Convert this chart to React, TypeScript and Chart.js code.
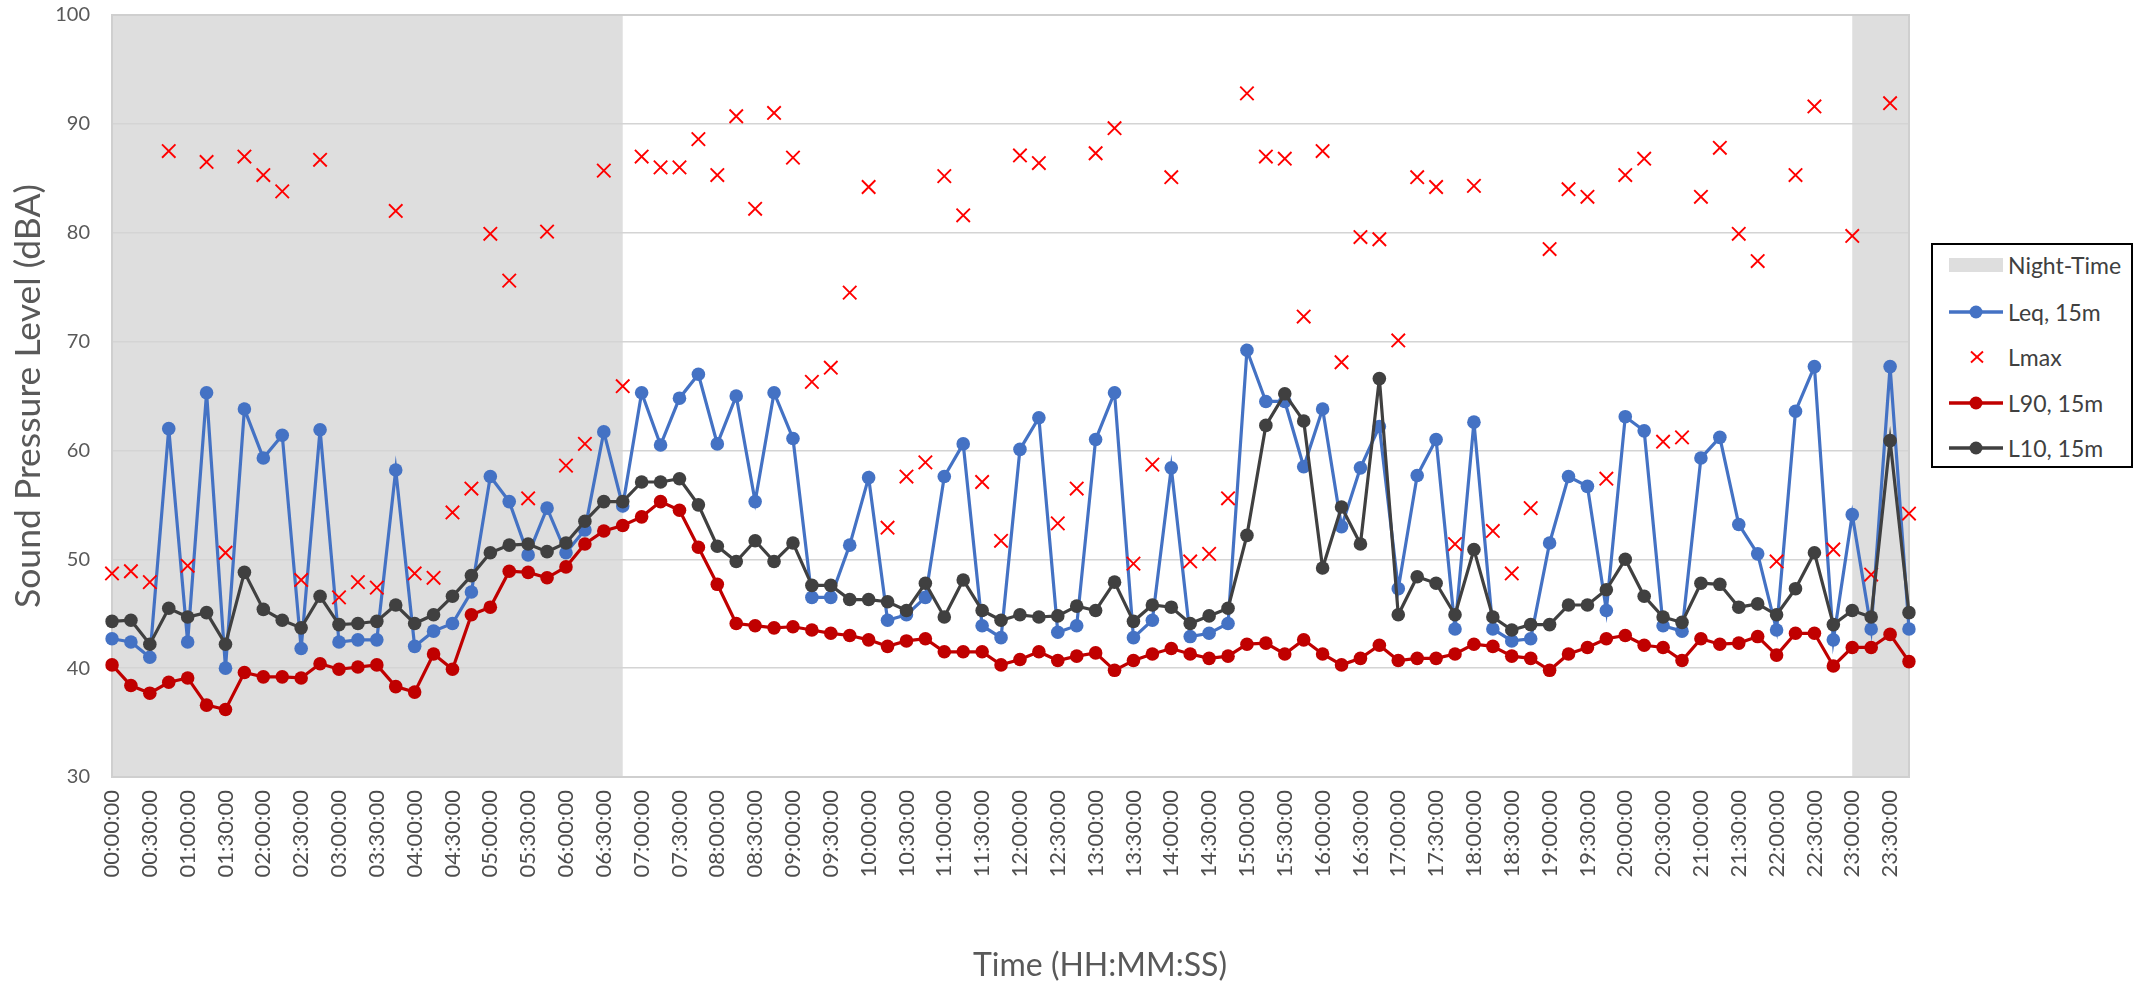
import React, { useEffect, useRef } from "react";
import { Chart, registerables } from "chart.js";

Chart.register(...registerables);

const timeLabels = [
  "00:00:00", "00:15:00", "00:30:00", "00:45:00", "01:00:00", "01:15:00", "01:30:00", "01:45:00",
  "02:00:00", "02:15:00", "02:30:00", "02:45:00", "03:00:00", "03:15:00", "03:30:00", "03:45:00",
  "04:00:00", "04:15:00", "04:30:00", "04:45:00", "05:00:00", "05:15:00", "05:30:00", "05:45:00",
  "06:00:00", "06:15:00", "06:30:00", "06:45:00", "07:00:00", "07:15:00", "07:30:00", "07:45:00",
  "08:00:00", "08:15:00", "08:30:00", "08:45:00", "09:00:00", "09:15:00", "09:30:00", "09:45:00",
  "10:00:00", "10:15:00", "10:30:00", "10:45:00", "11:00:00", "11:15:00", "11:30:00", "11:45:00",
  "12:00:00", "12:15:00", "12:30:00", "12:45:00", "13:00:00", "13:15:00", "13:30:00", "13:45:00",
  "14:00:00", "14:15:00", "14:30:00", "14:45:00", "15:00:00", "15:15:00", "15:30:00", "15:45:00",
  "16:00:00", "16:15:00", "16:30:00", "16:45:00", "17:00:00", "17:15:00", "17:30:00", "17:45:00",
  "18:00:00", "18:15:00", "18:30:00", "18:45:00", "19:00:00", "19:15:00", "19:30:00", "19:45:00",
  "20:00:00", "20:15:00", "20:30:00", "20:45:00", "21:00:00", "21:15:00", "21:30:00", "21:45:00",
  "22:00:00", "22:15:00", "22:30:00", "22:45:00", "23:00:00", "23:15:00", "23:30:00", "23:45:00",
];

const leq15m = [
  42.7, 42.4, 41.0, 62.0, 42.4, 65.3, 40.0, 63.8, 59.3, 61.4, 41.8, 61.9, 42.4, 42.6, 42.6, 58.2,
  42.0, 43.4, 44.1, 47.0, 57.6, 55.3, 50.4, 54.7, 50.6, 52.7, 61.7, 54.9, 65.3, 60.5, 64.8, 67.0,
  60.6, 65.0, 55.3, 65.3, 61.1, 46.5, 46.5, 51.3, 57.5, 44.4, 44.9, 46.5, 57.6, 60.6, 43.9, 42.8,
  60.1, 63.0, 43.3, 43.9, 61.0, 65.3, 42.8, 44.4, 58.4, 42.9, 43.2, 44.1, 69.2, 64.5, 64.5, 58.5,
  63.8, 53.0, 58.4, 62.2, 47.3, 57.7, 61.0, 43.6, 62.6, 43.6, 42.5, 42.7, 51.5, 57.6, 56.7, 45.3,
  63.1, 61.8, 43.9, 43.4, 59.3, 61.2, 53.2, 50.5, 43.5, 63.6, 67.7, 42.6, 54.1, 43.6, 67.7, 43.6,
];

const lmax = [
  48.7, 48.9, 47.9, 87.5, 49.4, 86.5, 50.6, 87.0, 85.3, 83.8, 48.1, 86.7, 46.5, 47.9, 47.4, 82.0,
  48.7, 48.3, 54.3, 56.5, 79.9, 75.6, 55.6, 80.1, 58.6, 60.6, 85.7, 65.9, 87.0, 86.0, 86.0, 88.6,
  85.3, 90.7, 82.2, 91.0, 86.9, 66.3, 67.6, 74.5, 84.2, 52.9, 57.6, 58.9, 85.2, 81.6, 57.1, 51.7,
  87.1, 86.4, 53.3, 56.5, 87.3, 89.6, 49.6, 58.7, 85.1, 49.8, 50.5, 55.6, 92.8, 87.0, 86.8, 72.3,
  87.5, 68.1, 79.6, 79.4, 70.1, 85.1, 84.2, 51.4, 84.3, 52.6, 48.7, 54.7, 78.5, 84.0, 83.3, 57.4,
  85.3, 86.8, 60.8, 61.2, 83.3, 87.8, 79.9, 77.4, 49.8, 85.3, 91.6, 50.9, 79.7, 48.6, 91.9, 54.2,
];

const l90_15m = [
  40.3, 38.4, 37.7, 38.7, 39.1, 36.6, 36.2, 39.6, 39.2, 39.2, 39.1, 40.4, 39.9, 40.1, 40.3, 38.3,
  37.8, 41.3, 39.9, 44.9, 45.6, 48.9, 48.8, 48.3, 49.3, 51.4, 52.6, 53.1, 53.9, 55.3, 54.5, 51.1,
  47.7, 44.1, 43.9, 43.7, 43.8, 43.5, 43.2, 43.0, 42.6, 42.0, 42.5, 42.7, 41.5, 41.5, 41.5, 40.3,
  40.8, 41.5, 40.7, 41.1, 41.4, 39.8, 40.7, 41.3, 41.8, 41.3, 40.9, 41.1, 42.2, 42.3, 41.3, 42.6,
  41.3, 40.3, 40.9, 42.1, 40.7, 40.9, 40.9, 41.3, 42.2, 42.0, 41.1, 40.9, 39.8, 41.3, 41.9, 42.7,
  43.0, 42.1, 41.9, 40.7, 42.7, 42.2, 42.3, 42.9, 41.2, 43.2, 43.2, 40.2, 41.9, 41.9, 43.1, 40.6,
];

const l10_15m = [
  44.3, 44.4, 42.2, 45.5, 44.7, 45.1, 42.2, 48.8, 45.4, 44.4, 43.7, 46.6, 44.0, 44.1, 44.3, 45.8,
  44.1, 44.9, 46.6, 48.5, 50.6, 51.3, 51.4, 50.7, 51.5, 53.5, 55.3, 55.3, 57.1, 57.1, 57.4, 55.0,
  51.2, 49.8, 51.7, 49.8, 51.5, 47.6, 47.6, 46.3, 46.3, 46.1, 45.3, 47.8, 44.7, 48.1, 45.3, 44.4,
  44.9, 44.7, 44.8, 45.7, 45.3, 47.9, 44.3, 45.8, 45.6, 44.1, 44.8, 45.5, 52.2, 62.3, 65.2, 62.7,
  49.2, 54.8, 51.4, 66.6, 44.9, 48.4, 47.8, 44.9, 50.9, 44.7, 43.5, 44.0, 44.0, 45.8, 45.8, 47.2,
  50.0, 46.6, 44.7, 44.2, 47.8, 47.7, 45.6, 45.9, 44.9, 47.3, 50.6, 44.0, 45.3, 44.7, 60.9, 45.1,
];

const nightPeriods: [string, string][] = [
  ["00:00:00", "06:45:00"],
  ["23:00:00", "23:45:00"],
];

const yMin = 30;
const yMax = 100;
const yStep = 10;

const C_LEQ = "#4472C4";
const C_LMAX = "#FF0000";
const C_L90 = "#C00000";
const C_L10 = "#404040";
const C_NIGHT = "#DEDEDE";
const C_TEXT = "#595959";
const FONT = "Lato";

const nightShadePlugin = {
  id: "nightShade",
  beforeDraw(chart: any) {
    const { ctx, chartArea, scales } = chart;
    const xs = scales.x;
    ctx.save();
    ctx.fillStyle = C_NIGHT;
    for (const [s, e] of nightPeriods) {
      const x0 = xs.getPixelForValue(timeLabels.indexOf(s));
      const x1 = xs.getPixelForValue(timeLabels.indexOf(e));
      ctx.fillRect(x0, chartArea.top, x1 - x0, chartArea.bottom - chartArea.top);
    }
    ctx.restore();
  },
};

const framePlugin = {
  id: "frame",
  beforeDatasetsDraw(chart: any) {
    const { ctx, chartArea } = chart;
    ctx.save();
    ctx.strokeStyle = "#CFCFCF";
    ctx.lineWidth = 2;
    ctx.strokeRect(chartArea.left, chartArea.top, chartArea.right - chartArea.left, chartArea.bottom - chartArea.top);
    ctx.restore();
  },
};

const xTitlePlugin = {
  id: "xTitle",
  afterDraw(chart: any) {
    const { ctx } = chart;
    ctx.save();
    ctx.fillStyle = C_TEXT;
    ctx.font = `32px ${FONT}`;
    ctx.textAlign = "center";
    ctx.textBaseline = "middle";
    ctx.fillText("Time (HH:MM:SS)", 1100, 966);
    ctx.restore();
  },
};

function LegendIcon({ kind, color }: { kind: string; color: string }) {
  if (kind === "box") {
    return (
      <svg width={54} height={20}>
        <rect x={0} y={3} width={54} height={14} fill={color} />
      </svg>
    );
  }
  if (kind === "x") {
    return (
      <svg width={54} height={20}>
        <line x1={22} y1={4.5} x2={34} y2={15.5} stroke={color} strokeWidth={1.8} />
        <line x1={34} y1={4.5} x2={22} y2={15.5} stroke={color} strokeWidth={1.8} />
      </svg>
    );
  }
  return (
    <svg width={54} height={20}>
      <line x1={0} y1={10} x2={54} y2={10} stroke={color} strokeWidth={3.5} />
      <circle cx={27} cy={10} r={6.5} fill={color} />
    </svg>
  );
}

const legendItems = [
  { label: "Night-Time", kind: "box", color: C_NIGHT },
  { label: "Leq, 15m", kind: "line", color: C_LEQ },
  { label: "Lmax", kind: "x", color: C_LMAX },
  { label: "L90, 15m", kind: "line", color: C_L90 },
  { label: "L10, 15m", kind: "line", color: C_L10 },
];

export default function App() {
  const canvasRef = useRef<HTMLCanvasElement | null>(null);

  useEffect(() => {
    document.body.style.margin = "0";
    const canvas = canvasRef.current;
    if (!canvas) return;
    const lineDs = (label: string, data: number[], color: string, order: number) => ({
      label,
      data,
      borderColor: color,
      backgroundColor: color,
      borderWidth: 3.2,
      pointRadius: 6.8,
      pointHoverRadius: 6.8,
      pointBorderWidth: 0,
      pointBackgroundColor: color,
      pointBorderColor: color,
      tension: 0,
      order,
    });
    const chart = new Chart(canvas, {
      type: "line",
      data: {
        labels: timeLabels,
        datasets: [
          lineDs("Leq, 15m", leq15m, C_LEQ, 4),
          {
            label: "Lmax",
            data: lmax,
            showLine: false,
            borderColor: C_LMAX,
            backgroundColor: C_LMAX,
            pointStyle: "crossRot",
            pointRadius: 9.5,
            pointHoverRadius: 9.5,
            pointBorderWidth: 1.9,
            pointBorderColor: C_LMAX,
            order: 3,
          } as any,
          lineDs("L90, 15m", l90_15m, C_L90, 2),
          lineDs("L10, 15m", l10_15m, C_L10, 1),
        ],
      },
      options: {
        animation: false,
        responsive: true,
        maintainAspectRatio: false,
        layout: { padding: { left: 0, right: 225, top: 14, bottom: 0 } },
        plugins: {
          legend: { display: false },
          tooltip: { enabled: false },
        },
        scales: {
          x: {
            offset: false,
            grid: { display: false, drawTicks: false },
            border: { display: false },
            ticks: {
              autoSkip: false,
              maxRotation: 90,
              minRotation: 90,
              padding: 13,
              color: "#4D4D4D",
              font: { family: FONT, size: 22 },
              callback: (_v: any, idx: number) => (idx % 2 === 0 ? timeLabels[idx] : null),
            },
            afterFit: (scale: any) => {
              scale.height = 209;
            },
          },
          y: {
            min: yMin,
            max: yMax,
            grid: {
              color: "#D4D4D4",
              lineWidth: 1.5,
              drawTicks: true,
              tickLength: 19,
              tickColor: "rgba(0,0,0,0)",
            },
            border: { display: false },
            ticks: {
              stepSize: yStep,
              padding: 3,
              color: C_TEXT,
              font: { family: FONT, size: 20 },
            },
            title: {
              display: true,
              text: "Sound Pressure Level (dBA)",
              color: C_TEXT,
              font: { family: FONT, size: 35.5 },
              padding: { top: 7, bottom: 0 },
            },
            afterFit: (scale: any) => {
              scale.width = 112;
            },
          },
        },
      } as any,
      plugins: [nightShadePlugin, framePlugin, xTitlePlugin],
    });
    return () => chart.destroy();
  }, []);

  const rowCenters = [22, 69, 114, 160, 205];

  return (
    <div style={{ position: "relative", width: 2134, height: 986, background: "#fff" }}>
      <canvas ref={canvasRef} />
      <div
        style={{
          position: "absolute",
          left: 1931,
          top: 243,
          width: 202,
          height: 225,
          border: "2px solid #000",
          boxSizing: "border-box",
          background: "#fff",
          fontFamily: FONT,
          fontSize: 23,
          color: "#404040",
        }}
      >
        {legendItems.map((it, i) => (
          <div
            key={it.label}
            style={{
              position: "absolute",
              left: 16,
              top: rowCenters[i] - 2 - 12,
              height: 24,
              display: "flex",
              alignItems: "center",
              whiteSpace: "nowrap",
            }}
          >
            <LegendIcon kind={it.kind} color={it.color} />
            <span style={{ marginLeft: 5, lineHeight: "24px" }}>{it.label}</span>
          </div>
        ))}
      </div>
    </div>
  );
}
